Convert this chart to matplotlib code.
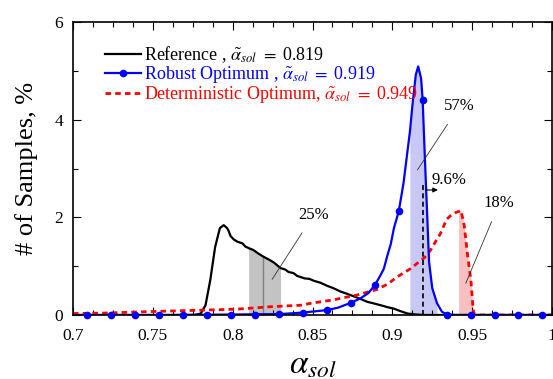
import numpy as np
import matplotlib
matplotlib.use("Agg")
import matplotlib.pyplot as plt
from matplotlib.ticker import MultipleLocator, AutoMinorLocator
from matplotlib.lines import Line2D

plt.rcParams['font.family'] = ['Liberation Serif', 'DejaVu Serif']
plt.rcParams['mathtext.fontset'] = 'stix'

# Reference design (black)
ref_x = [0.700, 0.776, 0.780, 0.783, 0.786, 0.789, 0.792, 0.7944, 0.7965, 0.7975,
         0.7986, 0.8006, 0.803, 0.806, 0.808, 0.810, 0.813, 0.816, 0.8195, 0.823,
         0.826, 0.830, 0.833, 0.835, 0.838, 0.8404, 0.845, 0.848, 0.8509, 0.855,
         0.859, 0.863, 0.8676, 0.872, 0.876, 0.880, 0.8843, 0.888, 0.8927, 0.897,
         0.901, 0.905, 0.9095, 0.915, 0.920, 1.000]
ref_y = [0.00, 0.00, 0.03, 0.20, 0.72, 1.39, 1.78, 1.84, 1.78, 1.72,
         1.62, 1.55, 1.50, 1.47, 1.40, 1.37, 1.33, 1.26, 1.19, 1.13,
         1.07, 0.96, 0.93, 0.88, 0.86, 0.80, 0.75, 0.74, 0.70, 0.66,
         0.60, 0.55, 0.48, 0.43, 0.38, 0.33, 0.27, 0.24, 0.20, 0.16,
         0.13, 0.08, 0.03, 0.01, 0.00, 0.00]

# Robust optimum (blue)
rob_x = [0.700, 0.760, 0.800, 0.830, 0.844, 0.859, 0.866, 0.874, 0.880, 0.885,
         0.889, 0.8927, 0.8947, 0.897, 0.899, 0.901, 0.904, 0.907, 0.911, 0.9126,
         0.9147, 0.9162, 0.918, 0.919, 0.9203, 0.922, 0.923, 0.925, 0.928, 0.931,
         0.934, 0.940, 1.000]
rob_y = [0.00, 0.00, 0.01, 0.02, 0.05, 0.10, 0.15, 0.25, 0.34, 0.45,
         0.61, 0.82, 0.95, 1.23, 1.45, 1.78, 2.12, 2.70, 3.75, 4.30,
         4.92, 5.09, 4.85, 4.40, 3.28, 1.91, 1.09, 0.55, 0.24, 0.07,
         0.01, 0.00, 0.00]
rob_mx = [0.709, 0.724, 0.739, 0.754, 0.769, 0.784, 0.799, 0.814, 0.829, 0.844,
          0.859, 0.874, 0.889, 0.904, 0.919, 0.934, 0.949, 0.964, 0.979, 0.994]
rob_my = [0.00, 0.00, 0.00, 0.00, 0.00, 0.00, 0.00, 0.01, 0.02, 0.05,
          0.10, 0.25, 0.61, 2.12, 4.40, 0.01, 0.00, 0.00, 0.00, 0.00]

# Deterministic optimum (red)
det_x = [0.700, 0.720, 0.748, 0.782, 0.803, 0.824, 0.8425, 0.849, 0.863, 0.878,
         0.890, 0.897, 0.903, 0.9115, 0.916, 0.920, 0.924, 0.927, 0.930, 0.934,
         0.937, 0.9398, 0.9415, 0.943, 0.945, 0.947, 0.9492, 0.9503, 0.951, 0.955,
         1.000]
det_y = [0.03, 0.04, 0.07, 0.10, 0.12, 0.17, 0.20, 0.24, 0.31, 0.41,
         0.52, 0.63, 0.78, 0.95, 1.07, 1.17, 1.33, 1.50, 1.66, 1.96,
         2.05, 2.10, 2.12, 2.14, 1.84, 1.26, 0.72, 0.24, 0.03, 0.00,
         0.00]

ref_sol, rob_sol, det_sol = 0.819, 0.919, 0.949
xtick_labels = ['0.7', '0.75', '0.8', '0.85', '0.9', '0.95', '1']

fig = plt.figure(figsize=(5.53, 3.79), dpi=100)
ax = fig.add_axes([73/553, 64/379, 479/553, 293/379])

# shaded areas
rx, ry = np.array(ref_x), np.array(ref_y)
ax.fill_between(rx, 0, ry, where=(rx >= 0.810) & (rx <= 0.830), color='#c3c3c3', lw=0)
bx, by = np.array(rob_x), np.array(rob_y)
ax.fill_between(bx, 0, by, where=(bx >= 0.911) & (bx <= 0.928), color='#c8c8f6', lw=0)
dx, dy = np.array(det_x), np.array(det_y)
ax.fill_between(dx, 0, dy, where=(dx >= 0.9415) & (dx <= 0.951), color='#f9c0c0', lw=0)

ax.plot([ref_sol, ref_sol], [0, 1.19], color='#808080', lw=1)

ax.plot(ref_x, ref_y, color='black', lw=1.6)
ax.plot(det_x, det_y, color='red', lw=2, linestyle=(0, (2, 1.5)))
ax.plot(rob_x, rob_y, color='blue', lw=1.6)
ax.plot(rob_mx, rob_my, 'o', color='blue', ms=4.5, clip_on=False, zorder=5)

# 9.6% marker
ax.plot([rob_sol, rob_sol], [0, 2.73], color='black', lw=1.2, linestyle=(0, (3, 2)))
ax.annotate('', xy=(0.9303, 2.56), xytext=(rob_sol, 2.56),
            arrowprops=dict(arrowstyle='-|>', lw=0.8, color='black', mutation_scale=7))
ax.text(0.9245, 2.77, '9.6%', fontsize=12, va='center', ha='left')

# percentage callouts
ax.annotate('25%', xy=(0.8247, 0.73), xytext=(0.8507, 2.05), fontsize=12,
            ha='center', va='center',
            arrowprops=dict(arrowstyle='-', lw=0.6, color='#333333', shrinkA=6, shrinkB=0))
ax.annotate('57%', xy=(0.9157, 2.97), xytext=(0.9419, 4.27), fontsize=12,
            ha='center', va='center',
            arrowprops=dict(arrowstyle='-', lw=0.6, color='#333333', shrinkA=6, shrinkB=0))
ax.annotate('18%', xy=(0.946, 0.65), xytext=(0.967, 2.29), fontsize=12,
            ha='center', va='center',
            arrowprops=dict(arrowstyle='-', lw=0.6, color='#333333', shrinkA=6, shrinkB=0))

ax.set_xlim(0.7, 1.0)
ax.set_ylim(0, 6)
ax.set_xticks(np.arange(0.7, 1.001, 0.05))
ax.set_xticklabels(xtick_labels)
ax.xaxis.set_minor_locator(AutoMinorLocator(4))
ax.yaxis.set_major_locator(MultipleLocator(2))
ax.yaxis.set_minor_locator(AutoMinorLocator(2))
ax.tick_params(which='both', direction='in', top=True, right=True, labelsize=12.5)
ax.tick_params(which='major', length=6, width=0.8)
ax.tick_params(which='minor', length=3.5, width=0.8)
ax.tick_params(axis='x', which='major', pad=9)
ax.tick_params(axis='y', which='major', pad=7)
for s in ax.spines.values():
    s.set_linewidth(1.2)

ax.set_xlabel(r'$\alpha_{sol}$', fontsize=24, labelpad=5)
ax.set_ylabel('# of Samples, %', fontsize=19, labelpad=12)

handles = [Line2D([], [], color='black', lw=1.6),
           Line2D([], [], color='blue', lw=1.6, marker='o', ms=4.5),
           Line2D([], [], color='red', lw=2, linestyle=(0, (2, 1.5)))]
labels = [r'Reference , $\tilde{\alpha}_{sol}\ =\ $' + f'{ref_sol:.3f}',
          r'Robust Optimum , $\tilde{\alpha}_{sol}\ =\ $' + f'{rob_sol:.3f}',
          r'Deterministic Optimum, $\tilde{\alpha}_{sol}\ =\ $' + f'{det_sol:.3f}']
leg = ax.legend(handles, labels, loc='upper left', bbox_to_anchor=(0.066, 0.925),
                frameon=False, fontsize=13, handlelength=2.0, handletextpad=0.2,
                labelspacing=-0.05, borderpad=0, borderaxespad=0)
for t, c in zip(leg.get_texts(), ['black', 'blue', 'red']):
    t.set_color(c)

fig.savefig('out.png', dpi=100)
